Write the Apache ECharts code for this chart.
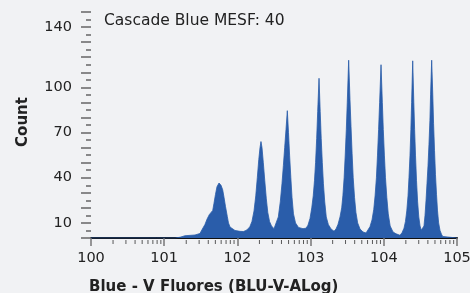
<!DOCTYPE html>
<html>
<head>
<meta charset="utf-8">
<script src="https://cdn.jsdelivr.net/npm/echarts@6/dist/echarts.min.js"></script>
<style>
html,body{margin:0;padding:0;background:#f1f2f4;}
#chart{width:470px;height:293px;}
</style>
</head>
<body>
<div id="chart"></div>
<script>
// Channel position in decades (log scale, 0 = 10^0 ... 5 = 10^5)
const channelDecades = [
  0, 0.806, 0.895, 0.919, 0.943, 1.018, 1.042, 1.066, 1.148, 1.216, 1.284, 1.421, 1.489, 1.516, 1.557, 1.585,
  1.616, 1.663, 1.680, 1.701, 1.721, 1.749, 1.776, 1.799, 1.817, 1.837, 1.862, 1.878, 1.899, 1.926, 1.967,
  2.036, 2.081, 2.117, 2.145,
  2.172, 2.199, 2.227, 2.251, 2.272, 2.292, 2.309, 2.322, 2.336, 2.354, 2.374, 2.395, 2.415, 2.439, 2.466, 2.500,
  2.527, 2.559, 2.586, 2.609, 2.628, 2.646, 2.664, 2.682, 2.698, 2.713, 2.730, 2.746, 2.766, 2.794, 2.835, 2.896,
  2.937, 2.964, 2.992, 3.016, 3.036, 3.053, 3.068, 3.083, 3.097, 3.115, 3.131, 3.145, 3.160, 3.175, 3.193, 3.214, 3.242, 3.279, 3.320,
  3.347, 3.374, 3.402, 3.425, 3.441, 3.458, 3.473, 3.488, 3.501, 3.520, 3.538, 3.552, 3.567, 3.582, 3.600, 3.619, 3.643, 3.675, 3.716, 3.757,
  3.784, 3.811, 3.839, 3.863, 3.881, 3.899, 3.914, 3.929, 3.943, 3.962, 3.980, 3.993, 4.008, 4.023, 4.041, 4.061, 4.087, 4.126, 4.167, 4.221,
  4.249, 4.276, 4.296, 4.314, 4.331, 4.344, 4.358, 4.370, 4.380, 4.395, 4.410, 4.421, 4.433, 4.447, 4.462, 4.478, 4.495, 4.512, 4.531,
  4.549, 4.563, 4.577, 4.590, 4.604, 4.617, 4.630, 4.639, 4.654, 4.669, 4.680, 4.693, 4.706, 4.720, 4.734, 4.749, 4.768, 4.788, 4.805, 4.816,
  5.000
];
// Event count at each channel position
const counts = [
  0, 0, 0, 1.2, 0, 0, 1.0, 0, 0, 0.5, 1.5, 2, 3, 5.5, 9, 12.5,
  15.5, 18.3, 23, 29, 34, 36.5, 35, 32, 27, 21, 14.3, 10, 7.3, 6, 5,
  4.4, 4.3, 5, 6,
  7.7, 11, 18, 28, 40, 52, 60, 64, 60, 50, 38, 26, 17, 11, 8, 6.2,
  7.5, 14, 24, 36, 48, 60, 72, 84.5, 70, 55, 40, 27, 16, 10, 7, 6.2,
  6.5, 8.5, 13, 20, 28, 38, 50, 66, 84, 106, 84, 66, 50, 36, 24, 14, 9, 6, 4.5,
  6, 9, 14, 20, 28, 40, 55, 72, 90, 118, 92, 74, 56, 40, 27, 17, 10, 6, 4, 3.3,
  4.5, 7.5, 12, 19, 28, 40, 55, 72, 90, 115, 90, 72, 55, 40, 27, 16, 8, 4, 2.8, 1.8,
  3.5, 6.5, 11, 18, 28, 40, 55, 72, 90, 117.6, 90, 72, 55, 38, 24, 14, 8, 5.2, 4.4,
  8, 15, 25, 36, 48, 62, 78, 95, 118, 95, 76, 58, 42, 29, 18, 10, 5, 2.5, 1, 0,
  0
];
const xTickLabels = ['100', '101', '102', '103', '104', '105'];
const yTickLabels = [10, 40, 70, 100, 140];
const annotation = 'Cascade Blue MESF: 40';
const xTitle = 'Blue - V Fluores (BLU-V-ALog)';
const yTitle = 'Count';

// minor ticks of the log axis (2..9 within each decade)
const minorTickValues = [];
for (let d = 0; d < 5; d++) {
  for (let k = 2; k <= 9; k++) minorTickValues.push([d + Math.log10(k), 0]);
}

const FONT = 'DejaVu Sans';
const BLUE = '#2a5daa';
const chart = echarts.init(document.getElementById('chart'));
chart.setOption({
  backgroundColor: '#f1f2f4',
  animation: false,
  grid: { left: 91, right: 13, top: 12, bottom: 55, outerBoundsMode: 'none', containLabel: false },
  xAxis: {
    type: 'value', min: 0, max: 5, interval: 1, position: 'bottom',
    axisLine: { show: true, onZero: false, lineStyle: { color: '#111', width: 2 } },
    axisTick: { show: true, length: 8, lineStyle: { color: '#777', width: 1.5 } },
    axisLabel: { margin: 13, fontFamily: FONT, fontSize: 14.5, color: '#222',
      formatter: v => xTickLabels[Math.round(v)] },
    splitLine: { show: false }
  },
  yAxis: {
    type: 'value', min: 0, max: 150, interval: 10, offset: 2,
    axisLine: { show: false },
    axisTick: { show: true, length: 10, lineStyle: { color: '#666', width: 1.5 } },
    minorTick: { show: true, splitNumber: 2, length: 5, lineStyle: { color: '#666', width: 1.5 } },
    axisLabel: { margin: 17, fontFamily: FONT, fontSize: 14.5, color: '#222',
      formatter: v => yTickLabels.includes(v) ? String(v) : '' },
    splitLine: { show: false }
  },
  series: [
    {
      type: 'line',
      data: channelDecades.map((x, i) => [x, counts[i]]),
      showSymbol: false,
      lineStyle: { width: 0.8, color: BLUE },
      areaStyle: { color: BLUE, opacity: 1 },
      z: 1
    },
    {
      type: 'scatter',
      data: minorTickValues,
      symbol: 'rect',
      symbolSize: [1, 4],
      symbolOffset: [0, 4],
      itemStyle: { color: '#333' },
      clip: false,
      silent: true,
      z: 5
    }
  ],
  graphic: [
    { type: 'text', left: 104, top: 13, style: { text: annotation, fontFamily: FONT, fontSize: 15.5, fill: '#222' } },
    { type: 'text', x: 89, y: 287, style: { text: xTitle, fontFamily: FONT, fontSize: 15, fontWeight: 'bold', fill: '#222', verticalAlign: 'middle', align: 'left' } },
    { type: 'text', x: 23, y: 122, rotation: Math.PI / 2, style: { text: yTitle, fontFamily: FONT, fontSize: 15, fontWeight: 'bold', fill: '#222', verticalAlign: 'middle', align: 'center' } }
  ]
});
</script>
</body>
</html>
